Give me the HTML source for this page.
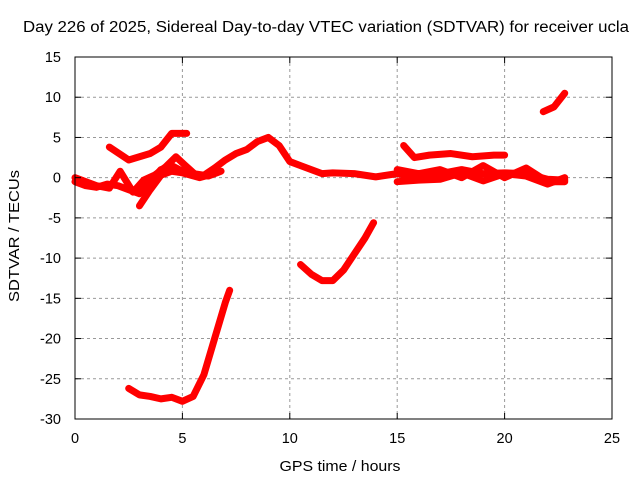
<!DOCTYPE html>
<html><head><meta charset="utf-8"><style>
body{margin:0;background:#fff}
svg{display:block;font-family:"Liberation Sans",sans-serif}
</style></head><body>
<svg id="c" width="640" height="480">
<text x="326" y="32" text-anchor="middle" font-size="15.5" textLength="606" lengthAdjust="spacingAndGlyphs">Day 226 of 2025, Sidereal Day-to-day VTEC variation (SDTVAR) for receiver ucla</text>
<text x="340" y="471" text-anchor="middle" font-size="15" textLength="121" lengthAdjust="spacingAndGlyphs">GPS time / hours</text>
<text transform="translate(19,236) rotate(-90)" text-anchor="middle" font-size="15" textLength="132" lengthAdjust="spacingAndGlyphs">SDTVAR / TECUs</text>
<g id="grid"></g><g id="series"></g><g id="axes"></g>
</svg>
<script>
const xTicks=[0,5,10,15,20,25];
const yTicks=[15,10,5,0,-5,-10,-15,-20,-25,-30];
const sA=[[0,-0.5],[0.5,-1],[1,-1.2],[1.5,-0.8],[2,-1],[2.5,-1.5],[3,-2],[3.5,-0.5],[4,1],[4.5,1.5],[5,0.8],[5.5,0.5],[6,0.3],[6.5,1.2],[7,2.2],[7.5,3],[8,3.5],[8.5,4.5],[9,5],[9.5,4],[10,2],[10.5,1.5],[11,1],[11.5,0.5],[12,0.6],[13,0.5],[14,0.1],[15,0.5],[16,0],[17,0.5],[18,1],[19,0.5],[20,0.6],[21,0.5],[22,-0.2],[22.8,-0.3]];
const sB=[[1.6,3.8],[2.5,2.2],[3.5,3],[4,3.8],[4.5,5.5],[5.2,5.5]];
const sC=[[0,0],[1,-1],[1.6,-1.3],[2.1,0.8],[2.4,-0.5],[2.7,-1.8],[3.2,-0.3],[3.7,0.3],[4.2,1.3],[4.7,2.6],[5.1,1.6],[5.6,0.4],[6.2,0.2],[6.8,0.8]];
const sC2=[[3,-3.5],[3.5,-1.5],[4,0.3],[4.5,0.8],[5,0.6],[5.8,0],[6.2,0.3]];
const sD=[[15.3,4],[15.8,2.5],[16.5,2.8],[17.5,3],[18.5,2.6],[19.5,2.8],[20,2.8]];
const sE=[[15,1],[16,0.5],[17,1],[18,0],[19,1.5],[20,0],[21,1.2],[22,-0.5],[22.8,-0.5]];
const sE2=[[15,-0.5],[16,-0.3],[17,-0.2],[18,0.6],[19,-0.4],[20,0.5],[21,0.2],[22,-0.8],[22.8,0]];
const sF=[[21.8,8.2],[22.3,8.8],[22.8,10.5]];
const sG=[[2.5,-26.2],[3,-27],[3.5,-27.2],[4,-27.5],[4.5,-27.3],[5,-27.8],[5.5,-27.2],[6,-24.5],[6.5,-20],[7,-15.5],[7.2,-14]];
const sH=[[10.5,-10.8],[11,-12],[11.5,-12.8],[12,-12.8],[12.5,-11.5],[13,-9.5],[13.5,-7.5],[13.9,-5.6]];
const series=[sA,sB,sC,sC2,sD,sE,sE2,sF,sG,sH];
const X0=75,X1=612,Y0=419,Y1=57;
const xs=v=>X0+(v-0)/25*(X1-X0);
const ys=v=>Y0-(v+30)/45*(Y0-Y1);
const NS="http://www.w3.org/2000/svg";
function mk(t,a,p){const e=document.createElementNS(NS,t);for(const k in a)e.setAttribute(k,a[k]);p.appendChild(e);return e;}
const grid=document.getElementById('grid'),axes=document.getElementById('axes'),sg=document.getElementById('series');
xTicks.forEach(t=>{
 if(t>0&&t<25){const l=mk('line',{x1:xs(t),x2:xs(t),y1:Y1,y2:Y0,stroke:'#999','stroke-dasharray':'3,3'},grid);
 
 }
 const tx=mk('text',{x:xs(t),y:Y0+24,'text-anchor':'middle','font-size':'14.5'},axes);tx.textContent=t;
 
 
 mk('line',{x1:xs(t),x2:xs(t),y1:Y0,y2:Y0-6,stroke:'#000'},axes);
 mk('line',{x1:xs(t),x2:xs(t),y1:Y1,y2:Y1+6,stroke:'#000'},axes);
});
yTicks.forEach(t=>{
 if(t<15&&t>-30){const l=mk('line',{x1:X0,x2:X1,y1:ys(t),y2:ys(t),stroke:'#999','stroke-dasharray':'3,3'},grid);
 
 }
 const tx=mk('text',{x:X0-14,y:ys(t)+5,'text-anchor':'end','font-size':'14.5'},axes);tx.textContent=t;
 
 
 mk('line',{x1:X0,x2:X0+6,y1:ys(t),y2:ys(t),stroke:'#000'},axes);
 mk('line',{x1:X1,x2:X1-6,y1:ys(t),y2:ys(t),stroke:'#000'},axes);
});
const fr=mk('rect',{x:X0,y:Y1,width:X1-X0,height:Y0-Y1,fill:'none',stroke:'#000'},axes);


series.forEach((s,i)=>{
 const p=mk('polyline',{points:s.map(d=>xs(d[0])+','+ys(d[1])).join(' '),fill:'none',stroke:'#f00','stroke-width':'7','stroke-linejoin':'round','stroke-linecap':'round'},sg);
 
 
});
</script>
</body></html>
